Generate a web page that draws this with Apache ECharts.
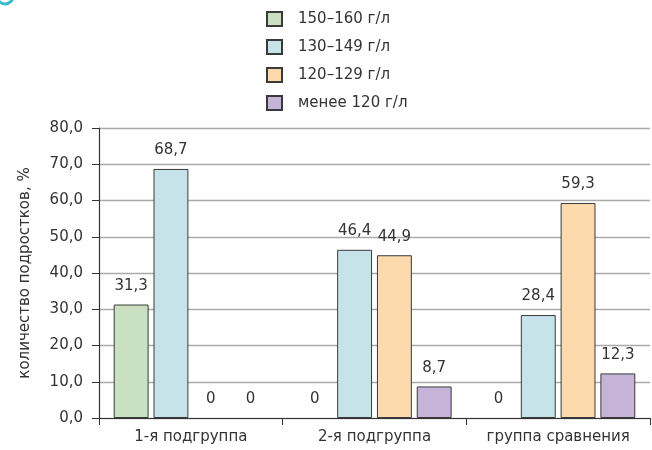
<!DOCTYPE html>
<html><head><meta charset="utf-8">
<script src="https://cdn.jsdelivr.net/npm/echarts@6/dist/echarts.min.js"></script>
<style>html,body{margin:0;padding:0;background:#fff}#c{width:652px;height:450px}</style>
</head><body><div id="c"></div>
<script>
var categories = ['1-я подгруппа', '2-я подгруппа', 'группа сравнения'];
var seriesNames = ['150–160 г/л', '130–149 г/л', '120–129 г/л', 'менее 120 г/л'];
var s150_160 = [31.3, 0, 0];
var s130_149 = [68.7, 46.4, 28.4];
var s120_129 = [0, 44.9, 59.3];
var sUnder120 = [0, 8.7, 12.3];
var yTicks = [0, 10, 20, 30, 40, 50, 60, 70, 80];
var colors = ['#c9e1c1', '#c6e3e9', '#fdd9ae', '#c5b4d8'];
var font = 'DejaVu Sans';
function fmt(v){ return v === 0 ? '0' : v.toFixed(1).replace('.', ','); }
var allData = [s150_160, s130_149, s120_129, sUnder120];
var chart = echarts.init(document.getElementById('c'));
chart.setOption({
  animation: false,
  textStyle: {fontFamily: font},
  color: colors,
  legend: {
    orient: 'vertical', left: 261, top: 6, itemWidth: 15, itemHeight: 14, itemGap: 12,
    icon: 'rect',
    textStyle: {fontFamily: font, fontSize: 15, lineHeight: 14, color: '#333', padding: [0,0,0,11]},
    data: seriesNames
  },
  grid: {left: 99, right: 2, top: 128, bottom: 32, containLabel: false},
  xAxis: {
    type: 'category', data: categories,
    axisLine: {lineStyle: {color: '#333', width: 1.2}},
    axisTick: {show: true, interval: 0, length: 7, lineStyle: {color: '#333'}},
    axisLabel: {interval: 0, hideOverlap: false, fontFamily: font, fontSize: 15, color: '#333', margin: 12}
  },
  yAxis: {
    type: 'value', min: yTicks[0], max: yTicks[yTicks.length-1], interval: 10,
    name: 'количество подростков, %', nameLocation: 'middle', nameGap: 66,
    nameTextStyle: {fontFamily: font, fontSize: 15, color: '#333'},
    axisLine: {show: true, lineStyle: {color: '#333', width: 1.2}},
    axisTick: {show: true, length: 7, lineStyle: {color: '#333'}},
    axisLabel: {fontFamily: font, fontSize: 15, color: '#333', margin: 16, formatter: function(v){ return v.toFixed(1).replace('.', ','); }},
    splitLine: {lineStyle: {color: '#aaa', width: 1.3}}
  },
  graphic: [{type: 'arc', shape: {cx: 5, cy: -4, r: 8, startAngle: 0, endAngle: Math.PI}, style: {stroke: '#3bbccc', lineWidth: 3, fill: null}}],
  series: allData.map(function(d, i){
    return {
      name: seriesNames[i], type: 'bar',
      data: d.map(function(v){ return v === 0 ? {value: v, itemStyle: {borderWidth: 0}} : v; }),
      barGap: '14%', barCategoryGap: '16%',
      itemStyle: {color: colors[i], borderColor: '#3a3a3a', borderWidth: 1},
      label: {show: true, position: 'top', distance: 11, fontFamily: font, fontSize: 15, color: '#333',
        formatter: function(p){ return fmt(p.value); }}
    };
  })
});
</script></body></html>
